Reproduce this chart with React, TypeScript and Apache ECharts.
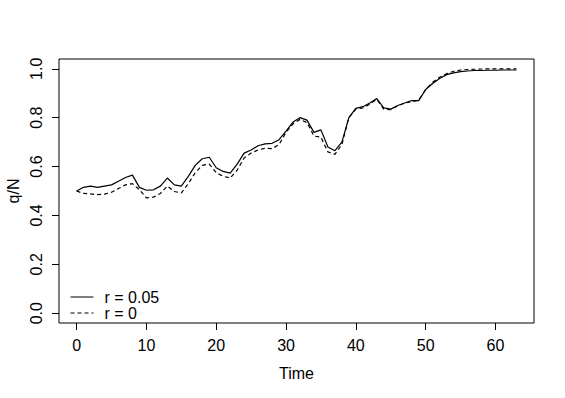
import React, { useEffect, useRef } from "react";
import * as echarts from "echarts";

const TIME = Array.from({ length: 64 }, (_, i) => i);
const R005 = [
  0.5, 0.515, 0.52, 0.515, 0.52, 0.525, 0.54, 0.555, 0.565, 0.515,
  0.503, 0.505, 0.52, 0.553, 0.525, 0.52, 0.56, 0.605, 0.632, 0.638,
  0.595, 0.58, 0.573, 0.61, 0.655, 0.668, 0.685, 0.693, 0.695, 0.71,
  0.745, 0.782, 0.8, 0.79, 0.74, 0.75, 0.68, 0.665, 0.7, 0.8,
  0.838, 0.845, 0.86, 0.878, 0.84, 0.835, 0.85, 0.86, 0.87, 0.87,
  0.915, 0.94, 0.96, 0.976, 0.983, 0.988, 0.991, 0.993, 0.993, 0.994,
  0.994, 0.995, 0.995, 0.995,
];
const R0 = [
  0.5, 0.49, 0.488, 0.485, 0.487, 0.495, 0.51, 0.525, 0.53, 0.505,
  0.472, 0.475, 0.49, 0.52, 0.498, 0.492, 0.53, 0.575, 0.605, 0.61,
  0.575, 0.56, 0.553, 0.585, 0.635, 0.655, 0.668, 0.675, 0.673, 0.69,
  0.74, 0.775, 0.793, 0.78, 0.725, 0.72, 0.66, 0.65, 0.69, 0.8,
  0.835, 0.84, 0.855, 0.875, 0.835, 0.833, 0.848, 0.86, 0.865, 0.872,
  0.915, 0.945, 0.965, 0.98, 0.99, 0.995, 0.997, 0.998, 0.999, 1.0,
  1.0, 1.0, 1.0, 1.0,
];
const X_TICKS = [0, 10, 20, 30, 40, 50, 60];
const Y_TICKS = [0, 0.2, 0.4, 0.6, 0.8, 1.0];
const SERIES_NAMES = ["r = 0.05", "r = 0"];

const FONT = "'Liberation Sans', Arial, Helvetica, sans-serif";

export default function App() {
  const ref = useRef<HTMLDivElement>(null);
  useEffect(() => {
    if (!ref.current) return;
    const chart = echarts.init(ref.current, null, { renderer: "svg" });
    chart.setOption({
      animation: false,
      backgroundColor: "#ffffff",
      textStyle: { fontFamily: FONT },
      grid: {
        left: 59,
        right: 31,
        top: 59,
        bottom: 75,
        show: true,
        borderColor: "#000",
        borderWidth: 1,
        backgroundColor: "transparent",
        containLabel: false,
        outerBoundsMode: "none",
      },
      legend: {
        orient: "vertical",
        left: 70,
        top: 289,
        itemWidth: 23,
        itemHeight: 15,
        itemGap: 0,
        padding: 0,
        itemStyle: { opacity: 0 },
        lineStyle: { width: 1 },
        textStyle: { fontSize: 16, lineHeight: 15, color: "#000", fontFamily: FONT, padding: [0, 0, 0, 6] },
        data: SERIES_NAMES,
      },
      xAxis: {
        type: "value",
        min: -2.52,
        max: 65.52,
        name: "Time",
        nameLocation: "middle",
        nameGap: 42,
        nameMoveOverlap: false,
        nameTextStyle: { fontSize: 16, color: "#000", fontFamily: FONT },
        axisLine: { show: false, onZero: false },
        splitLine: { show: false },
        axisTick: {
          show: true,
          length: 7,
          customValues: X_TICKS,
          lineStyle: { color: "#000" },
        },
        axisLabel: {
          customValues: X_TICKS,
          fontSize: 16,
          color: "#000",
          margin: 14,
          fontFamily: FONT,
        },
      },
      yAxis: {
        type: "value",
        min: -0.04,
        max: 1.04,
        name: "q/N",
        nameLocation: "middle",
        nameGap: 38,
        nameMoveOverlap: false,
        nameTextStyle: { fontSize: 16, color: "#000", fontFamily: FONT },
        axisLine: { show: false, onZero: false },
        splitLine: { show: false },
        axisTick: {
          show: true,
          length: 7,
          customValues: Y_TICKS,
          lineStyle: { color: "#000" },
        },
        axisLabel: {
          customValues: Y_TICKS,
          rotate: 90,
          fontSize: 16,
          color: "#000",
          margin: 15,
          fontFamily: FONT,
          formatter: (v: number) => v.toFixed(1),
        },
      },
      series: [
        {
          name: SERIES_NAMES[0],
          type: "line",
          symbol: "none",
          data: TIME.map((t, i) => [t, R005[i]]),
          lineStyle: { color: "#000", width: 1.2, type: "solid" },
          itemStyle: { color: "#000" },
        },
        {
          name: SERIES_NAMES[1],
          type: "line",
          symbol: "none",
          data: TIME.map((t, i) => [t, R0[i]]),
          lineStyle: { color: "#000", width: 1.2, type: [4, 3] },
          itemStyle: { color: "#000" },
        },
      ],
    });
    return () => chart.dispose();
  }, []);
  return <div ref={ref} style={{ width: 565, height: 398, position: "absolute", left: 0, top: 0 }} />;
}
